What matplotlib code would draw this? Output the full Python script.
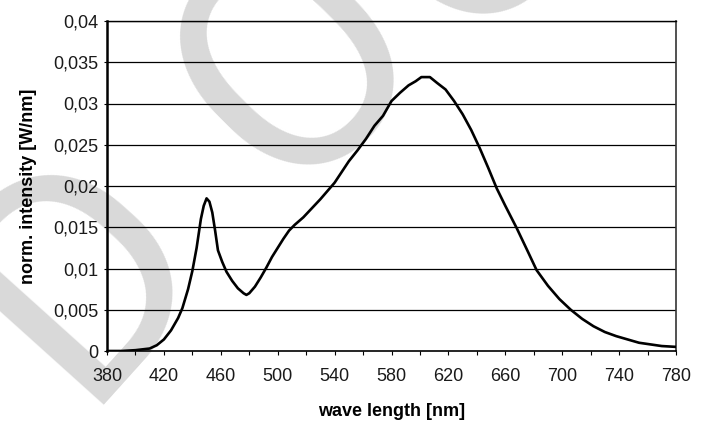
import numpy as np
import matplotlib
matplotlib.use('Agg')
import matplotlib.pyplot as plt
from matplotlib.ticker import MultipleLocator, FuncFormatter

# spectrum
wavelength = [380, 390, 400, 410, 415, 420, 425, 430, 433, 437, 440, 443, 446, 448, 450,
              452, 454, 456, 458, 461, 464, 468, 472, 476, 478, 480, 484, 488, 492, 496,
              500, 504, 508, 512, 518, 524, 530, 536, 540, 545, 550, 556, 562, 568, 574,
              580, 586, 592, 597, 601, 607, 612, 618, 624, 630, 636, 642, 648, 654, 660,
              668, 676, 682, 690, 698, 706, 714, 722, 730, 738, 746, 754, 762, 770, 780]
intensity = [0.0000, 0.0000, 0.0001, 0.0003, 0.0007, 0.0014, 0.0025, 0.0040, 0.0052, 0.0075,
             0.0097, 0.0125, 0.0160, 0.0176, 0.0185, 0.0181, 0.0168, 0.0146, 0.0122, 0.0108,
             0.0096, 0.0085, 0.0076, 0.0070, 0.0068, 0.0070, 0.0078, 0.0089, 0.0101, 0.0114,
             0.0125, 0.0136, 0.0146, 0.0153, 0.0162, 0.0173, 0.0184, 0.0196, 0.0204, 0.0217,
             0.0230, 0.0243, 0.0257, 0.0273, 0.0285, 0.0303, 0.0313, 0.0322, 0.0327, 0.0332,
             0.0332, 0.0325, 0.0317, 0.0303, 0.0287, 0.0268, 0.0246, 0.0222, 0.0197, 0.0176,
             0.0149, 0.0120, 0.0098, 0.0079, 0.0063, 0.0050, 0.0039, 0.0030, 0.0023, 0.0018,
             0.0014, 0.0010, 0.0008, 0.0006, 0.0005]

x_labels = [380, 420, 460, 500, 540, 580, 620, 660, 700, 740, 780]
y_ticks = [0, 0.005, 0.01, 0.015, 0.02, 0.025, 0.03, 0.035, 0.04]

narrow = ['Liberation Sans Narrow', 'Liberation Sans', 'DejaVu Sans']
W, H = 710, 424

fig = plt.figure(figsize=(W / 100, H / 100), dpi=100)
ax = fig.add_axes([107 / W, 1 - 351 / H, (676 - 107) / W, (351 - 21) / H])
ax.patch.set_alpha(0)

# light grey watermark letters behind the chart (anchored at their baseline origin)
wm = dict(color='#d9d9d9', fontsize=225, ha='left', va='baseline', rotation_mode='anchor',
          family=['Roboto', 'DejaVu Sans'], zorder=-5)
fig.text(78 / W, 1 - 405 / H, 'D', rotation=48, **wm)
fig.text(285 / W, 1 - 200 / H, 'O', rotation=45, **wm)
fig.text(460 / W, 1 - 48 / H, 'C', rotation=45, **wm)

ax.plot(wavelength, intensity, color='black', lw=1.9, solid_joinstyle='round', zorder=3)

ax.set_xlim(380, 780)
ax.set_ylim(0, 0.04)
ax.set_xticks(x_labels)
ax.xaxis.set_minor_locator(MultipleLocator(20))
ax.set_yticks(y_ticks)
ax.yaxis.set_major_formatter(FuncFormatter(lambda v, p: '0' if v == 0 else ('%g' % v).replace('.', ',')))

for y in y_ticks[1:]:
    ax.axhline(y, color='black', lw=0.9, zorder=1)

ax.tick_params(axis='x', which='both', direction='out', length=3, width=0.8, pad=9,
               labelsize=13, colors='black')
ax.tick_params(axis='y', length=2, width=0.8, pad=4, labelsize=13)
for lab in ax.get_xticklabels() + ax.get_yticklabels():
    lab.set_family(narrow)
    lab.set_color('#1a1a1a')

ax.spines['left'].set_linewidth(1.8)
ax.spines['bottom'].set_linewidth(1.2)
ax.spines['top'].set_linewidth(1.0)
ax.spines['right'].set_linewidth(1.2)
ax.spines['right'].set_color('#333333')

ax.set_xlabel('wave length [nm]', fontsize=13, fontweight='bold', family=narrow, labelpad=13)
ax.set_ylabel('norm. intensity [W/nm]', fontsize=13, fontweight='bold', family=narrow, labelpad=12)

fig.savefig('out.png', dpi=100)
